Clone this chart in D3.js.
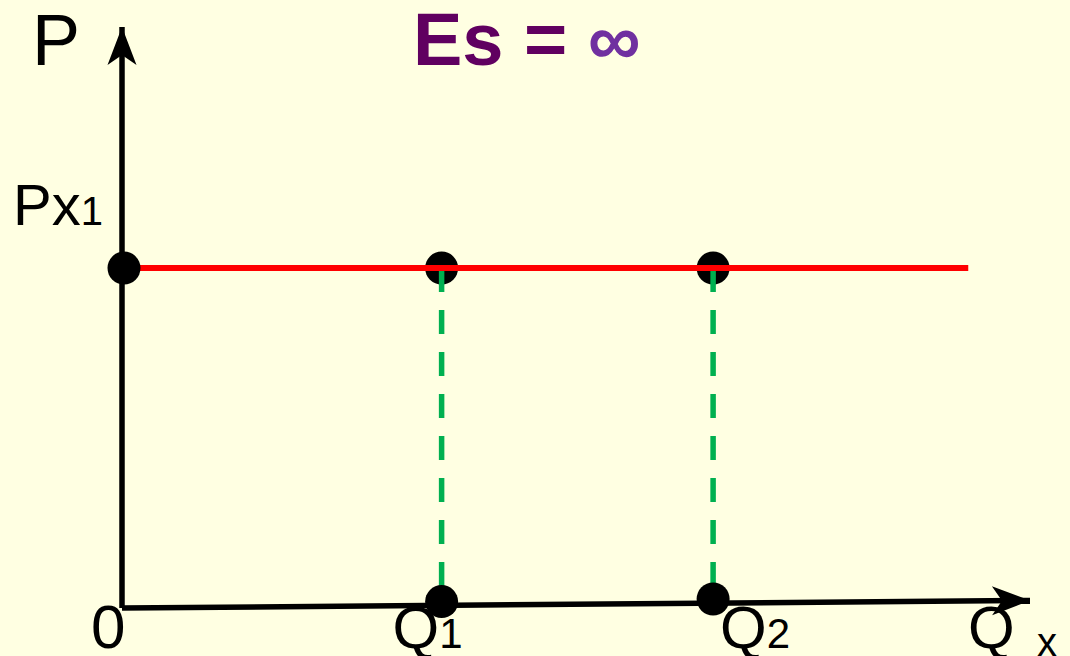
<!DOCTYPE html>
<html>
<head>
<meta charset="utf-8">
<script src="https://cdn.jsdelivr.net/npm/d3@7"></script>
<style>
  body { margin: 0; background: #ffffe2; }
  svg { display: block; font-family: "Liberation Sans", Arial, sans-serif; }
</style>
</head>
<body>
<div id="chart"></div>
<script>
// Perfectly elastic supply: price stays at Px1 whatever the quantity
var priceLevel = 5.85;                 // Px1
var supplyExtent = [0, 9.32];          // red supply line, along Q
var quantities = [3.52, 6.51];         // Q1, Q2
var quantityDotLift = [0.11, 0.155];   // bottom dots sit just above the tilted axis
var qNames = ["Q", "Q"];
var qSubs = ["1", "2"];
var axisEnd = {q: 10, p: 10, tilt: 0.13}; // x axis drawn slightly rising

var width = 1070, height = 656;

var svg = d3.select("#chart")
  .append("svg")
  .attr("width", width)
  .attr("height", height);

svg.append("rect")
  .attr("width", width).attr("height", height)
  .attr("fill", "#ffffe2");

var x = d3.scaleLinear().domain([0, 10]).range([122, 1030]);
var y = d3.scaleLinear().domain([0, 10]).range([608, 27]);

// notched arrow heads for the axes
var defs = svg.append("defs");
defs.append("marker")
  .attr("id", "arrow")
  .attr("viewBox", "-40 -16 42 32")
  .attr("refX", 0).attr("refY", 0)
  .attr("markerUnits", "userSpaceOnUse")
  .attr("markerWidth", 42).attr("markerHeight", 32)
  .attr("orient", "auto")
  .append("path")
  .attr("d", "M0,0 L-38,-14.5 L-28,0 L-38,14.5 Z")
  .attr("fill", "#000");

var line = d3.line()
  .x(function(d) { return x(d[0]); })
  .y(function(d) { return y(d[1]); });

// axes
svg.append("path")
  .datum([[0, 0], [0, axisEnd.p]])
  .attr("d", line)
  .attr("stroke", "#000").attr("stroke-width", 5.5).attr("fill", "none")
  .attr("marker-end", "url(#arrow)");

svg.append("path")
  .datum([[0, 0], [axisEnd.q, axisEnd.tilt]])
  .attr("d", line)
  .attr("stroke", "#000").attr("stroke-width", 5.5).attr("fill", "none")
  .attr("marker-end", "url(#arrow)");

// dots at Px1 for Q1, Q2
svg.selectAll(".topDot")
  .data(quantities)
  .enter().append("circle")
  .attr("class", "topDot")
  .attr("cx", function(d) { return x(d); })
  .attr("cy", y(priceLevel))
  .attr("r", 16.5)
  .attr("fill", "#000");

// dashed drop lines
svg.selectAll(".drop")
  .data(quantities)
  .enter().append("path")
  .attr("class", "drop")
  .attr("d", function(d, i) { return line([[d, priceLevel], [d, quantityDotLift[i]]]); })
  .attr("stroke", "#00b050")
  .attr("stroke-width", 5.5)
  .attr("stroke-dasharray", "24,18")
  .attr("fill", "none");

// dots on the Q axis
svg.selectAll(".bottomDot")
  .data(quantities)
  .enter().append("circle")
  .attr("class", "bottomDot")
  .attr("cx", function(d) { return x(d); })
  .attr("cy", function(d, i) { return y(quantityDotLift[i]); })
  .attr("r", 16.5)
  .attr("fill", "#000");

// supply curve
svg.append("path")
  .datum(supplyExtent.map(function(q) { return [q, priceLevel]; }))
  .attr("d", line)
  .attr("stroke", "#ff0000").attr("stroke-width", 6).attr("fill", "none");

svg.append("circle")
  .attr("cx", x(0) + 2)
  .attr("cy", y(priceLevel))
  .attr("r", 16.5)
  .attr("fill", "#000");

// labels
svg.append("text")
  .attr("x", x(0) - 90).attr("y", 65)
  .attr("font-size", 72)
  .text("P");

var px = svg.append("text")
  .attr("x", x(0) - 109).attr("y", y(priceLevel) - 43)
  .attr("font-size", 58);
px.append("tspan").text("Px");
px.append("tspan").attr("font-size", 40).text("1");

svg.append("text")
  .attr("x", x(0) - 31).attr("y", 648)
  .attr("font-size", 62)
  .text("0");

svg.selectAll(".qLabel")
  .data(quantities)
  .enter().append("text")
  .attr("class", "qLabel")
  .attr("x", function(d, i) { return x(d) + (i === 0 ? -49 : 7); })
  .attr("y", 648)
  .attr("font-size", 60)
  .each(function(d, i) {
    var t = d3.select(this);
    t.append("tspan").text(qNames[i]);
    t.append("tspan").attr("font-size", 42).text(qSubs[i]);
  });

svg.append("text")
  .attr("x", x(axisEnd.q) - 62).attr("y", 648)
  .attr("font-size", 60)
  .text("Q");

svg.append("text")
  .attr("x", x(axisEnd.q) + 7).attr("y", 656)
  .attr("font-size", 40)
  .text("x");

var title = svg.append("text")
  .attr("x", 413).attr("y", 65)
  .attr("font-size", 74)
  .attr("font-weight", "bold")
  .attr("fill", "#600060");
title.append("tspan").text("Es = ");
title.append("tspan").attr("fill", "#7030a0").text("∞");
</script>
</body>
</html>
